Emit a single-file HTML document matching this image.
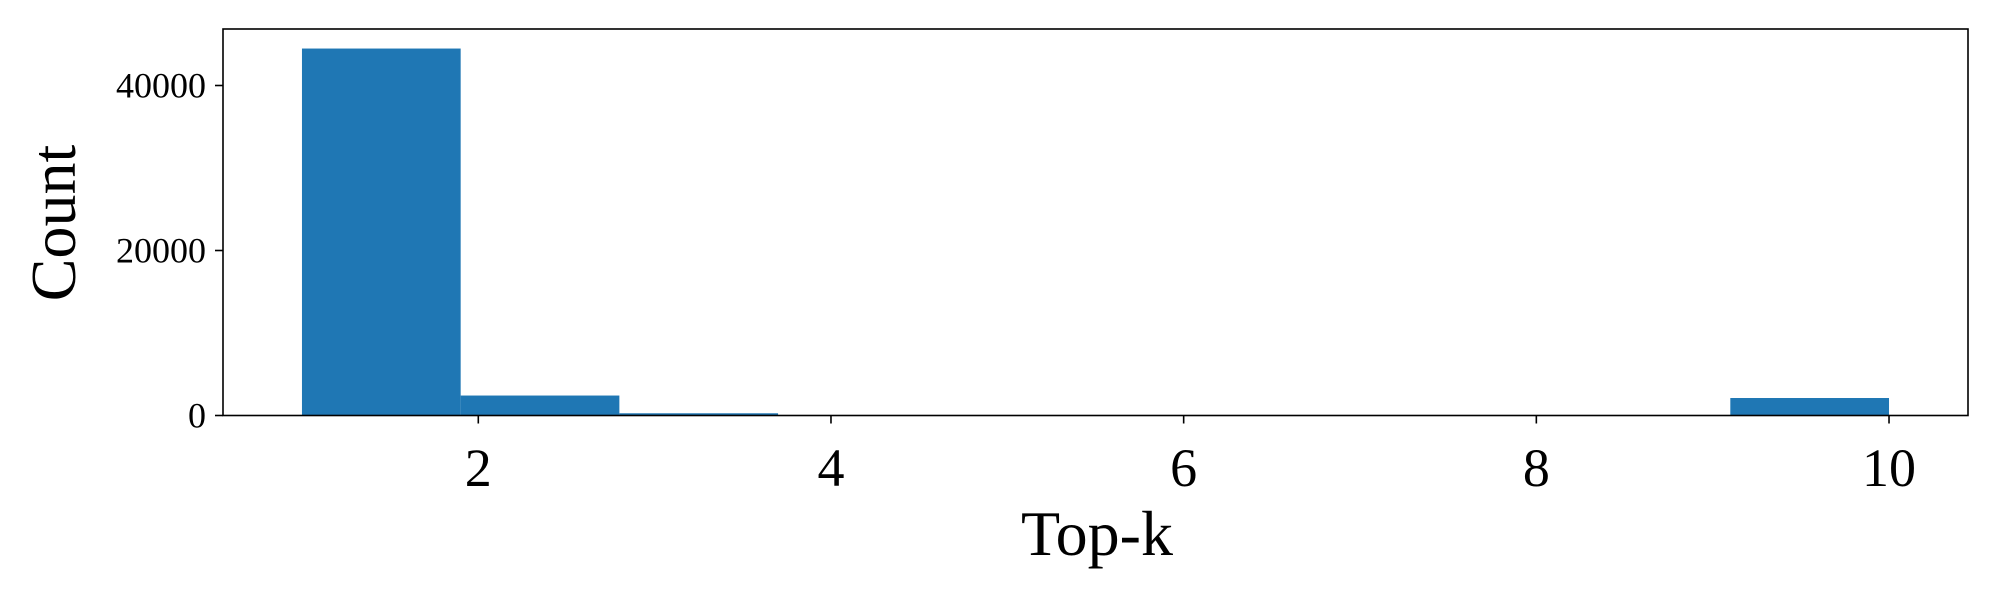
<!DOCTYPE html>
<html><head><meta charset="utf-8"><style>
body{margin:0;background:#fff;}
svg text{font-family:"Liberation Serif","DejaVu Serif",serif;fill:#000;}
</style></head><body>
<svg width="2000" height="600" id="chart"></svg>
<script>
const binEdges=[1,1.9,2.8,3.7,4.6,5.5,6.4,7.3,8.2,9.1,10];
const counts=[44480,2420,270,40,0,0,0,0,0,2120];
const xTicks=[2,4,6,8,10];
const yTicks=[0,20000,40000];
const NS="http://www.w3.org/2000/svg";
const svg=document.getElementById('chart');
const L=223,R=1968,T=29,B=415.5;
function X(v){return 478.3+(v-2)*176.34;}
function Y(v){return B-(v/40000)*330;}
function el(t,a){const e=document.createElementNS(NS,t);for(const k in a)e.setAttribute(k,a[k]);svg.appendChild(e);return e;}
for(let i=0;i<counts.length;i++){
  const r=el('rect',{x:X(binEdges[i]),y:Y(counts[i]),width:X(binEdges[i+1])-X(binEdges[i]),height:B-Y(counts[i]),fill:'#1f77b4'});
  
  
}
const frame=el('rect',{x:L,y:T,width:R-L,height:B-T,fill:'none',stroke:'#000','stroke-width':1.6});


xTicks.forEach(v=>{
  const px=X(v);
  el('line',{x1:px,x2:px,y1:B,y2:B+8,stroke:'#000','stroke-width':1.6});
  const t=el('text',{x:px,y:486,'text-anchor':'middle','font-size':54});
  t.textContent=v;
  
  
});
yTicks.forEach(v=>{
  const py=Y(v);
  el('line',{x1:L-8,x2:L,y1:py,y2:py,stroke:'#000','stroke-width':1.6});
  const t=el('text',{x:206,y:py+12,'text-anchor':'end','font-size':36});
  t.textContent=v;
  
  
});
const xl=el('text',{x:1097,y:555,'text-anchor':'middle','font-size':64});
xl.textContent='Top-k';


const yl=el('text',{x:0,y:0,'text-anchor':'middle','font-size':64,transform:'translate(75,223) rotate(-90)'});
yl.textContent='Count';


</script>
</body></html>
